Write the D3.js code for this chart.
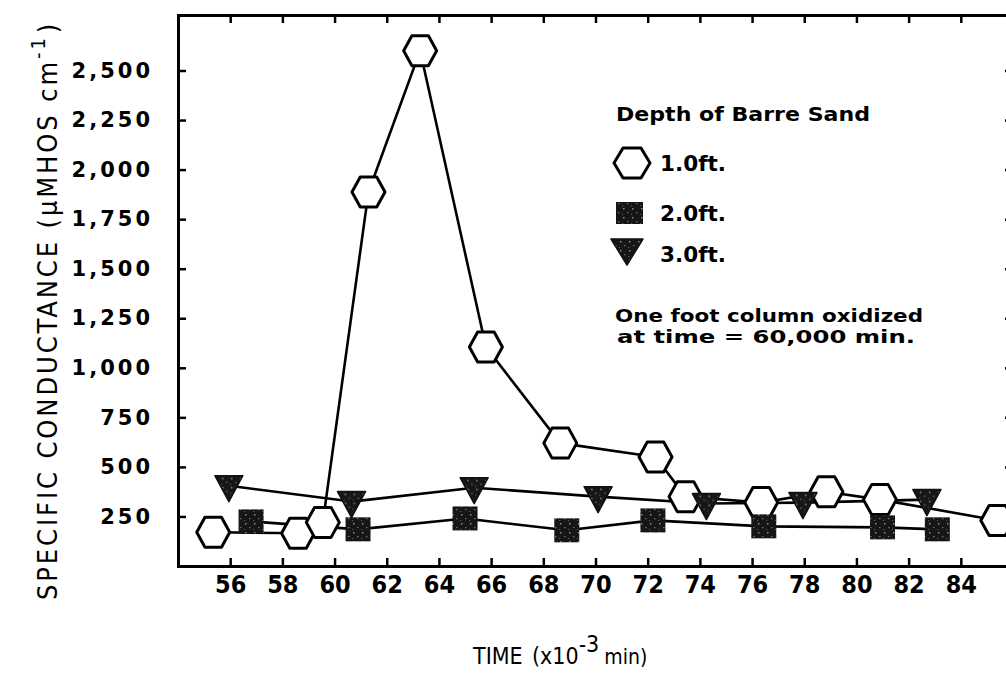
<!DOCTYPE html>
<html>
<head>
<meta charset="utf-8">
<script src="https://cdn.jsdelivr.net/npm/d3@7"></script>
<style>
  body { margin: 0; background: #fff; }
  svg { display: block; }
  .axis .domain { stroke: #000; stroke-width: 3; }
  .axis .tick line { stroke: #000; stroke-width: 2.5; }
  .xlab text { font-family: "DejaVu Sans Condensed", "DejaVu Sans", sans-serif; font-weight: bold; font-size: 25px; fill: #000; }
  .ylab text { font-family: "DejaVu Sans", sans-serif; font-weight: bold; font-size: 21px; letter-spacing: 3px; fill: #000; }
</style>
</head>
<body>
<svg id="chart" width="1006" height="675"></svg>
<script>
// Time axis (thousands of minutes) and conductance axis ticks
const timeTicks = [56, 58, 60, 62, 64, 66, 68, 70, 72, 74, 76, 78, 80, 82, 84];
const condTicks = [250, 500, 750, 1000, 1250, 1500, 1750, 2000, 2250, 2500];
const condTickLabels = ["250", "500", "750", "1,000", "1,250", "1,500", "1,750", "2,000", "2,250", "2,500"];

// Depth 1.0 ft (open hexagons)
const depth1Time = [55.35, 58.6, 59.55, 61.3, 63.28, 65.8, 68.65, 72.3, 73.45, 76.35, 78.85, 80.9, 85.4];
const depth1Cond = [170, 165, 220, 1887, 2600, 1105, 620, 550, 350, 320, 375, 335, 230];

// Depth 2.0 ft (stippled squares)
const depth2Time = [56.8, 60.9, 65.0, 68.9, 72.2, 76.45, 81.0, 83.1];
const depth2Cond = [225, 185, 240, 180, 230, 200, 195, 185];

// Depth 3.0 ft (filled down triangles)
const depth3Time = [55.95, 60.65, 65.35, 70.1, 74.25, 77.95, 82.7];
const depth3Cond = [405, 325, 395, 350, 315, 320, 335];

const seriesLabels = ["1.0ft.", "2.0ft.", "3.0ft."];
const legendTitle = "Depth of Barre Sand";
const noteLines = ["One foot column oxidized", "at time = 60,000 min."];

const svg = d3.select("#chart");

// stippled fill for the solid markers
const defs = svg.append("defs");
const pat = defs.append("pattern").attr("id", "stipple")
  .attr("patternUnits", "userSpaceOnUse").attr("width", 9).attr("height", 9);
pat.append("rect").attr("width", 9).attr("height", 9).attr("fill", "#161616");
pat.append("rect").attr("x", 2).attr("y", 1).attr("width", 1.5).attr("height", 1.5).attr("fill", "#8a8a8a");
pat.append("rect").attr("x", 6).attr("y", 5).attr("width", 1.5).attr("height", 1.2).attr("fill", "#6e6e6e");
pat.append("rect").attr("x", 1).attr("y", 7).attr("width", 1.2).attr("height", 1).attr("fill", "#5a5a5a");

const x = d3.scaleLinear().domain([54, 86]).range([178, 1013]);
const y = d3.scaleLinear().domain([0, 2780]).range([566, 15]);

// frame: four axes with inward ticks
svg.append("g").attr("class", "axis xlab")
  .attr("transform", `translate(0,${y(0)})`)
  .call(d3.axisBottom(x).tickValues(timeTicks).tickSize(-8).tickSizeOuter(0).tickPadding(9));

svg.append("g").attr("class", "axis")
  .attr("transform", `translate(0,${y(2780)})`)
  .call(d3.axisTop(x).tickValues(timeTicks).tickSize(-8).tickSizeOuter(0).tickFormat(""));

svg.append("g").attr("class", "axis ylab")
  .attr("transform", `translate(${x(54)},0)`)
  .call(d3.axisLeft(y).tickValues(condTicks).tickSize(-8).tickSizeOuter(0).tickPadding(25)
    .tickFormat((d, i) => condTickLabels[i]));

svg.append("g").attr("class", "axis")
  .attr("transform", `translate(${x(86)},0)`)
  .call(d3.axisRight(y).tickValues(condTicks).tickSize(-8).tickSizeOuter(0).tickFormat(""));

svg.selectAll(".axis .domain").attr("stroke-linecap", "square");

// series
const zip = (ts, cs) => ts.map((t, i) => ({ t: t, c: cs[i] }));
const s1 = zip(depth1Time, depth1Cond);
const s2 = zip(depth2Time, depth2Cond);
const s3 = zip(depth3Time, depth3Cond);

const line = d3.line().x(d => x(d.t)).y(d => y(d.c));
const plot = svg.append("g");
[s3, s2, s1].forEach(s => {
  plot.append("path").datum(s).attr("d", line)
    .attr("fill", "none").attr("stroke", "#000").attr("stroke-width", 2.6)
    .attr("stroke-linejoin", "round");
});

const hexPath = (w, h) => `M${-w},0L${-w / 2},${-h}L${w / 2},${-h}L${w},0L${w / 2},${h}L${-w / 2},${h}Z`;
const triPath = (w, top, apex) => `M${-w},${-top}L${w},${-top}L0,${apex}Z`;

plot.selectAll(".hex").data(s1).join("path").attr("class", "hex")
  .attr("transform", d => `translate(${x(d.t)},${y(d.c)})`)
  .attr("d", hexPath(16.5, 15))
  .attr("fill", "#fff").attr("stroke", "#000").attr("stroke-width", 3).attr("stroke-linejoin", "round");

plot.selectAll(".sq").data(s2).join("rect").attr("class", "sq")
  .attr("x", d => x(d.t) - 12.5).attr("y", d => y(d.c) - 12)
  .attr("width", 25).attr("height", 24)
  .attr("fill", "url(#stipple)");

plot.selectAll(".tri").data(s3).join("path").attr("class", "tri")
  .attr("transform", d => `translate(${x(d.t)},${y(d.c)})`)
  .attr("d", triPath(14, 10, 16))
  .attr("fill", "url(#stipple)").attr("stroke", "#111").attr("stroke-width", 1.5).attr("stroke-linejoin", "round");

// legend
const legFont = "'DejaVu Sans', sans-serif";
const leg = svg.append("g");
leg.append("text").attr("x", 616).attr("y", 121).text(legendTitle)
  .attr("font-family", legFont).attr("font-weight", "bold").attr("font-size", 20)
  .attr("textLength", 254).attr("lengthAdjust", "spacingAndGlyphs");

leg.append("path").attr("transform", "translate(632,163)").attr("d", hexPath(18, 15))
  .attr("fill", "#fff").attr("stroke", "#000").attr("stroke-width", 3).attr("stroke-linejoin", "round");
leg.append("rect").attr("x", 616).attr("y", 202).attr("width", 27).attr("height", 22).attr("fill", "url(#stipple)");
leg.append("path").attr("transform", "translate(627,249)").attr("d", triPath(16, 10, 16))
  .attr("fill", "url(#stipple)").attr("stroke", "#111").attr("stroke-width", 1.5).attr("stroke-linejoin", "round");

[171, 221, 262].forEach((by, i) => {
  leg.append("text").attr("x", 660).attr("y", by).text(seriesLabels[i])
    .attr("font-family", legFont).attr("font-weight", "bold").attr("font-size", 21)
    .attr("textLength", 66).attr("lengthAdjust", "spacingAndGlyphs");
});

leg.append("text").attr("x", 615).attr("y", 322).text(noteLines[0])
  .attr("font-family", legFont).attr("font-weight", "bold").attr("font-size", 18)
  .attr("textLength", 308).attr("lengthAdjust", "spacingAndGlyphs");
leg.append("text").attr("x", 617).attr("y", 343).text(noteLines[1])
  .attr("font-family", legFont).attr("font-weight", "bold").attr("font-size", 18)
  .attr("textLength", 298).attr("lengthAdjust", "spacingAndGlyphs");

// axis titles
const xt = svg.append("text").attr("x", 473).attr("y", 664)
  .attr("font-family", "'DejaVu Sans Condensed', 'DejaVu Sans', sans-serif")
  .attr("font-size", 23).attr("fill", "#000");
xt.append("tspan").text("TIME");
xt.append("tspan").attr("x", 532).text("(x10");
xt.append("tspan").attr("dy", -12).attr("font-size", 23).text("-3");
xt.append("tspan").attr("dy", 12).attr("dx", 5).attr("font-size", 21).text("min)");

const yt = svg.append("text").attr("transform", "translate(57,600) rotate(-90)")
  .attr("font-family", "'DejaVu Sans Condensed', 'DejaVu Sans', sans-serif")
  .attr("font-size", 27).attr("letter-spacing", 2.9).attr("fill", "#000");
yt.append("tspan").text("SPECIFIC CONDUCTANCE (μMHOS cm");
yt.append("tspan").attr("dy", -12).attr("font-size", 20).text("-1");
yt.append("tspan").attr("dy", 12).attr("dx", 2).text(")");
</script>
</body>
</html>
